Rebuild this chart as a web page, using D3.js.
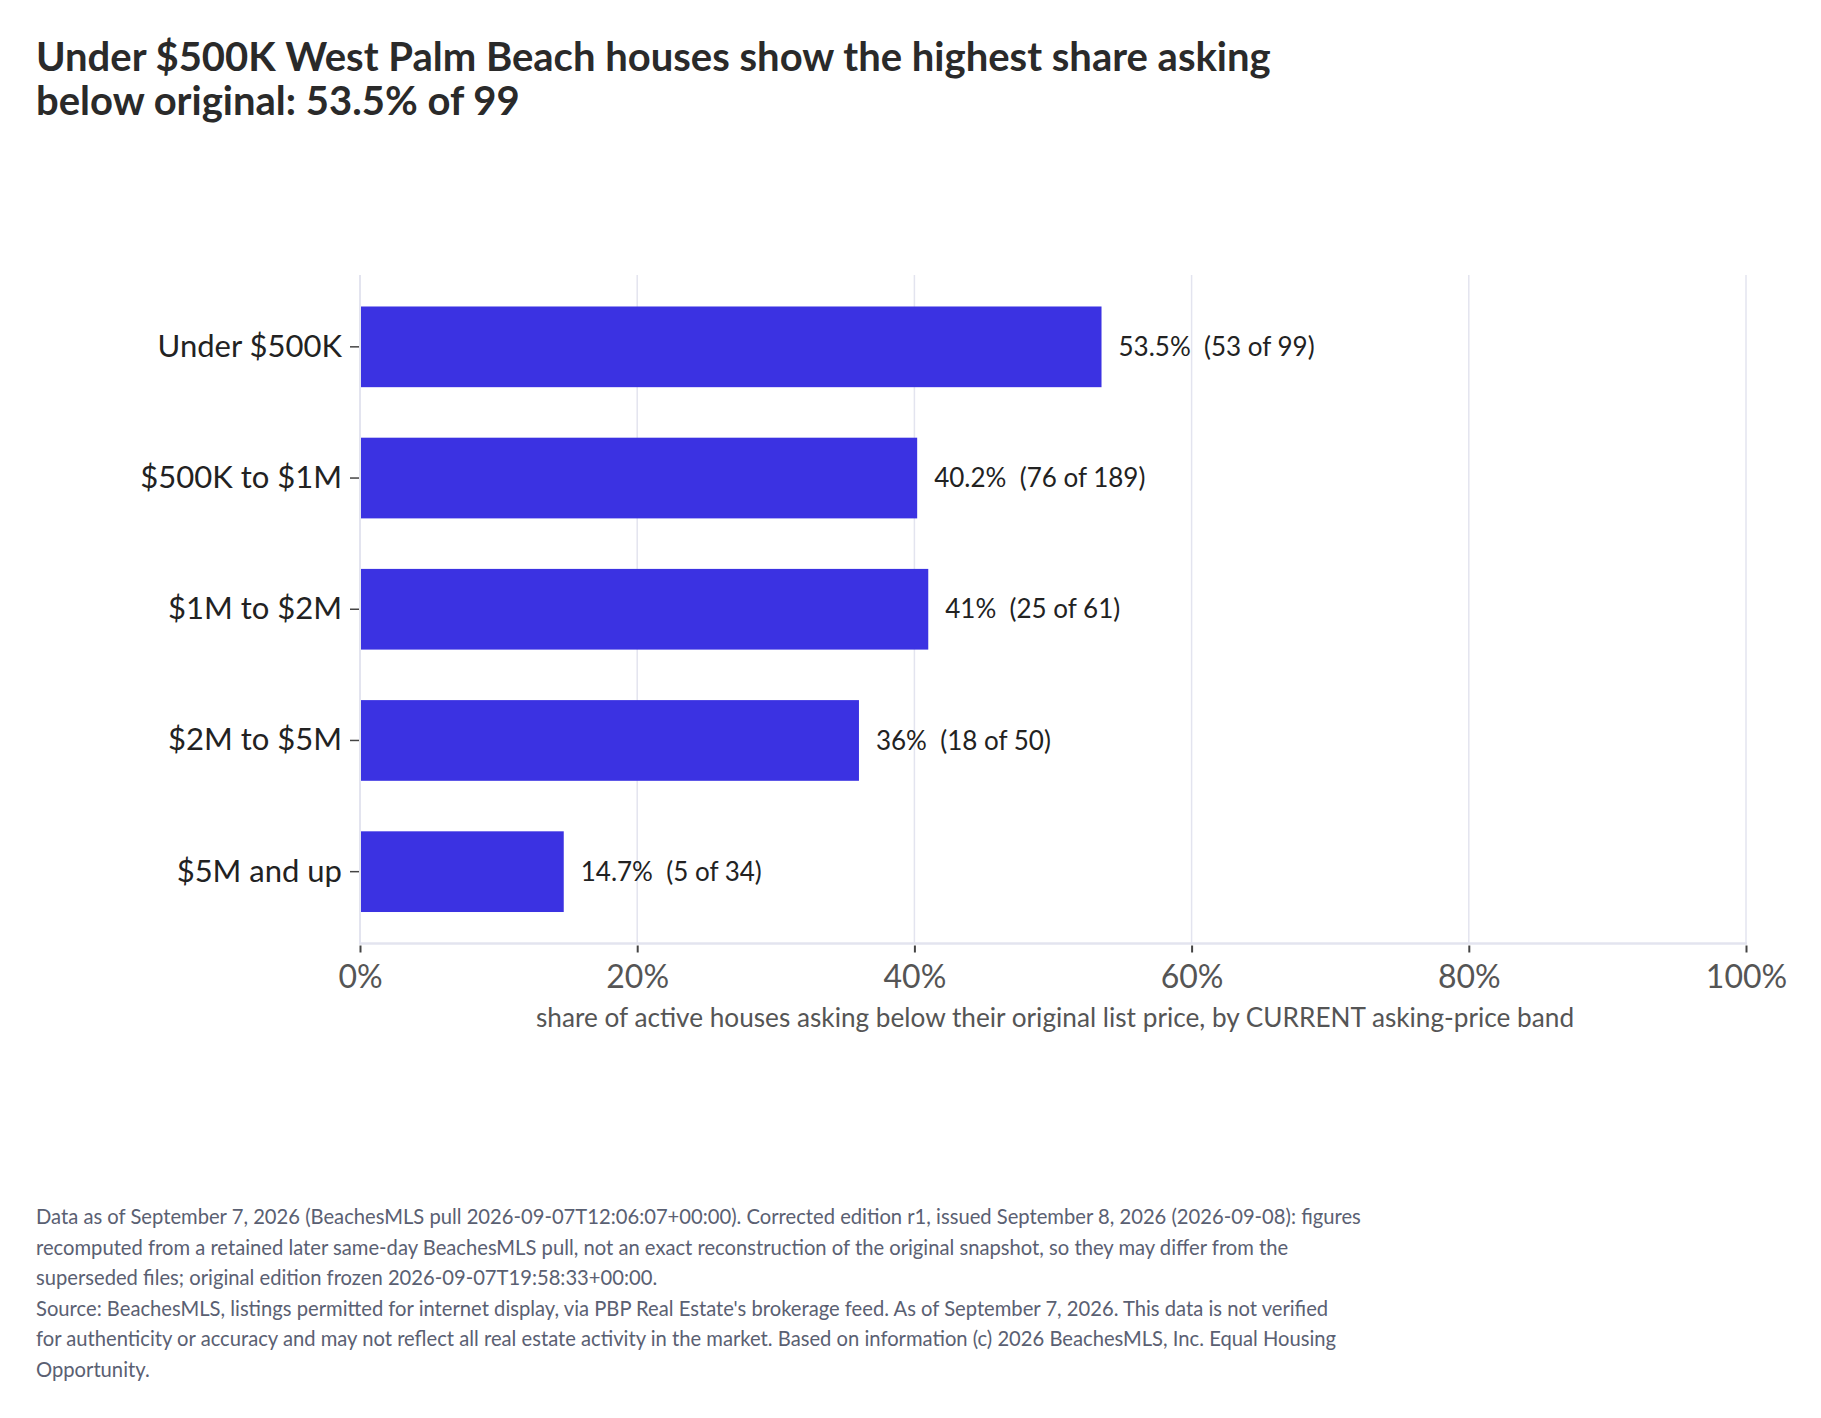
<!DOCTYPE html>
<html>
<head>
<meta charset="utf-8">
<script src="https://cdn.jsdelivr.net/npm/d3@7"></script>
<style>
  body { margin: 0; background: #fff; }
  svg { display: block; font-family: Lato, "Noto Sans", sans-serif; }
</style>
</head>
<body>
<div id="chart"></div>
<script>
var categories = ["Under $500K", "$500K to $1M", "$1M to $2M", "$2M to $5M", "$5M and up"];
var shares = [53.5, 40.2, 41, 36, 14.7];
var belowCounts = [53, 76, 25, 18, 5];
var totals = [99, 189, 61, 50, 34];
var xTicks = [0, 20, 40, 60, 80, 100];

var titleLines = [
    "Under $500K West Palm Beach houses show the highest share asking",
    "below original: 53.5% of 99"
];
var footLines = [
    "Data as of September 7, 2026 (BeachesMLS pull 2026-09-07T12:06:07+00:00). Corrected edition r1, issued September 8, 2026 (2026-09-08): figures",
    "recomputed from a retained later same-day BeachesMLS pull, not an exact reconstruction of the original snapshot, so they may differ from the",
    "superseded files; original edition frozen 2026-09-07T19:58:33+00:00.",
    "Source: BeachesMLS, listings permitted for internet display, via PBP Real Estate's brokerage feed. As of September 7, 2026. This data is not verified",
    "for authenticity or accuracy and may not reflect all real estate activity in the market. Based on information (c) 2026 BeachesMLS, Inc. Equal Housing",
    "Opportunity."
];

document.addEventListener("DOMContentLoaded", function(e) {
    drawChart();
});

function drawChart(){
    var width = 1821;
    var height = 1418;
    var left = 360, right = 1746, top = 275, bottom = 943.5;

    var svg = d3.select("#chart")
        .append("svg")
        .attr("width", width)
        .attr("height", height);

    // title
    svg.append("g").selectAll("text")
        .data(titleLines)
        .enter().append("text")
        .attr("x", 36)
        .attr("y", function(d, i){ return 71 + i * 44; })
        .attr("font-size", 40)
        .attr("font-weight", 700)
        .attr("fill", "#2a2a2a")
        .text(function(d){ return d; });

    var x = d3.scaleLinear().domain([0, 100]).range([left, right]);
    var y = d3.scaleBand().domain(categories).range([top, bottom])
        .paddingInner(0.385).paddingOuter(0.24);

    // gridlines
    svg.append("g").selectAll("line")
        .data(xTicks)
        .enter().append("line")
        .attr("x1", function(d){ return x(d); })
        .attr("x2", function(d){ return x(d); })
        .attr("y1", top)
        .attr("y2", bottom)
        .attr("stroke", "#e3e4ef")
        .attr("stroke-width", function(d){ return d == 0 ? 2 : 1.5; });

    svg.append("line")
        .attr("x1", left - 1).attr("x2", right + 1)
        .attr("y1", bottom).attr("y2", bottom)
        .attr("stroke", "#e3e4ef")
        .attr("stroke-width", 2.5);

    // bars
    svg.append("g").selectAll("rect")
        .data(categories)
        .enter().append("rect")
        .attr("x", x(0) + 1)
        .attr("y", function(d){ return y(d); })
        .attr("width", function(d, i){ return x(shares[i]) - x(0) - 1; })
        .attr("height", y.bandwidth())
        .attr("fill", "#3b32e2");

    // value labels
    svg.append("g").selectAll("text")
        .data(categories)
        .enter().append("text")
        .attr("x", function(d, i){ return x(shares[i]) + 17; })
        .attr("y", function(d){ return y(d) + y.bandwidth() / 2; })
        .attr("dy", "0.35em")
        .attr("font-size", 26)
        .attr("fill", "#222")
        .attr("xml:space", "preserve")
        .style("white-space", "pre")
        .text(function(d, i){ return shares[i] + "%  (" + belowCounts[i] + " of " + totals[i] + ")"; });

    // y axis
    var yAxis = svg.append("g")
        .attr("transform", "translate(" + (left - 1) + ",0)")
        .call(d3.axisLeft(y).tickSize(9).tickPadding(8));
    yAxis.select(".domain").remove();
    yAxis.selectAll(".tick line").attr("stroke", "#444").attr("stroke-width", 1.5);
    yAxis.selectAll(".tick text")
        .attr("font-family", "Lato, sans-serif")
        .attr("font-size", 31)
        .attr("fill", "#222");

    // x axis
    var xAxis = svg.append("g")
        .attr("transform", "translate(0," + (bottom + 2) + ")")
        .call(d3.axisBottom(x).tickValues(xTicks).tickSize(7).tickPadding(13)
            .tickFormat(function(d){ return d + "%"; }));
    xAxis.select(".domain").remove();
    xAxis.selectAll(".tick line").attr("stroke", "#444").attr("stroke-width", 2);
    xAxis.selectAll(".tick text")
        .attr("font-family", "Lato, sans-serif")
        .attr("font-size", 32)
        .attr("fill", "#555");

    svg.append("text")
        .attr("x", (left + right) / 2 + 2)
        .attr("y", 1027)
        .attr("text-anchor", "middle")
        .attr("font-size", 26.2)
        .attr("fill", "#555")
        .text("share of active houses asking below their original list price, by CURRENT asking-price band");

    // footer
    svg.append("g").selectAll("text")
        .data(footLines)
        .enter().append("text")
        .attr("x", 36)
        .attr("y", function(d, i){ return 1224 + i * 30.6; })
        .attr("font-size", 20.2)
        .attr("fill", "#5a6072")
        .text(function(d){ return d; });
}
</script>
</body>
</html>
